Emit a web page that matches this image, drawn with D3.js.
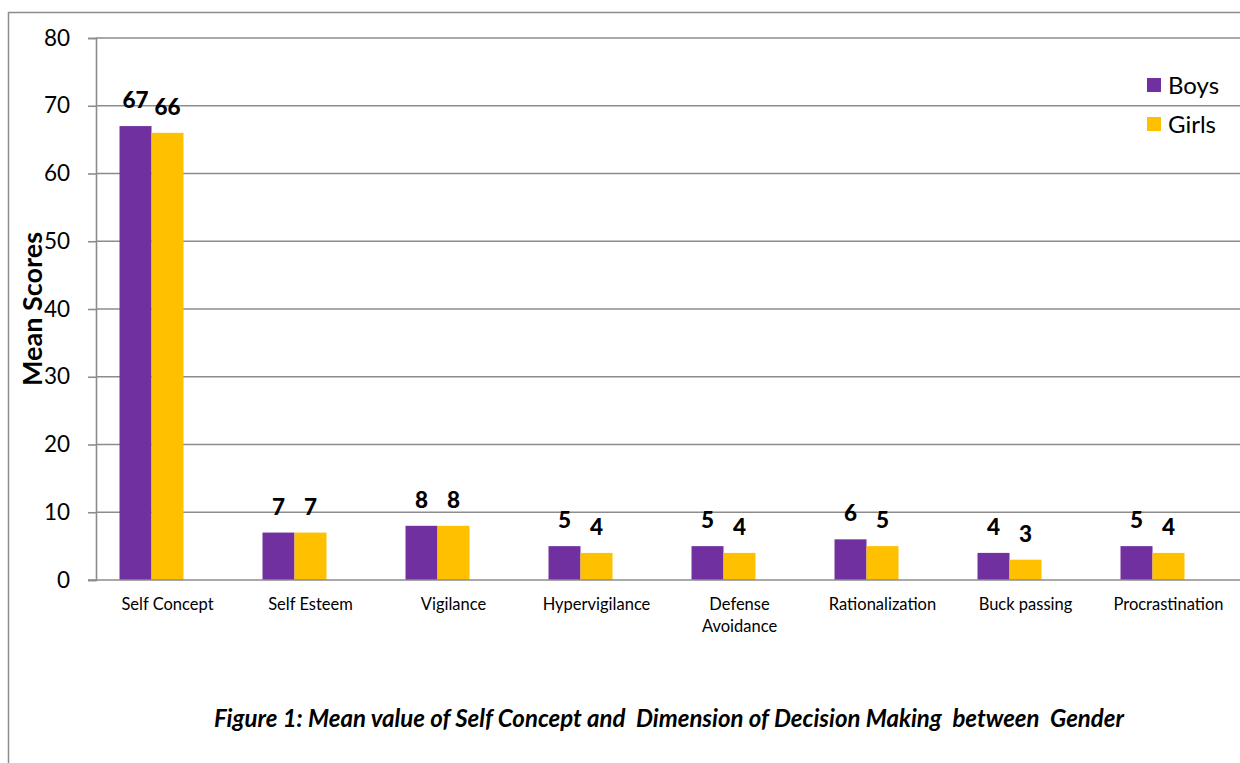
<!DOCTYPE html>
<html>
<head>
<meta charset="utf-8">
<script src="https://cdn.jsdelivr.net/npm/d3@7"></script>
<style>
  html, body { margin: 0; padding: 0; background: #fff; }
  svg { display: block; }
</style>
</head>
<body>
<svg id="chart" width="1240" height="763"></svg>
<script>
// Chart data
const categories = ["Self Concept", "Self Esteem", "Vigilance", "Hypervigilance",
  "Defense Avoidance", "Rationalization", "Buck passing", "Procrastination"];
const boys  = [67, 7, 8, 5, 5, 6, 4, 5];
const girls = [66, 7, 8, 4, 4, 5, 3, 4];
const seriesNames = ["Boys", "Girls"];
const yTicks = [0, 10, 20, 30, 40, 50, 60, 70, 80];

const colors = { Boys: "#7030A0", Girls: "#FFC000" };
const font = "Lato, 'Open Sans', sans-serif";

const svg = d3.select("#chart");
const W = 1240, H = 763;
const m = { left: 96, right: 0, top: 38, bottom: 183 };

// Outer frame
svg.append("rect")
  .attr("x", 8.5).attr("y", 12.5)
  .attr("width", W + 10).attr("height", H + 10)
  .attr("fill", "none").attr("stroke", "#8c8c8c").attr("stroke-width", 1.5);

const x0 = d3.scaleBand().domain(categories).range([m.left, W - m.right]).paddingInner(0).paddingOuter(0);
// three slots per category; the last one stays empty, so the pair sits left of centre
const slots = seriesNames.concat(["(empty)"]);
const x1 = d3.scaleBand().domain(slots).range([0, x0.bandwidth()]).paddingInner(0).paddingOuter(0.735);
const y = d3.scaleLinear().domain([0, 80]).range([H - m.bottom, m.top]);

// Horizontal gridlines
svg.append("g").selectAll("line").data(yTicks.filter(d => d > 0)).join("line")
  .attr("x1", m.left).attr("x2", W)
  .attr("y1", d => y(d)).attr("y2", d => y(d))
  .attr("stroke", "#8c8c8c").attr("stroke-width", 1.6);

// Y axis
const yAxis = svg.append("g")
  .attr("transform", `translate(${m.left},0)`)
  .call(d3.axisLeft(y).tickValues(yTicks).tickSize(8).tickPadding(18));
yAxis.select(".domain").attr("stroke", "#8c8c8c").attr("stroke-width", 1.6);
yAxis.selectAll(".tick line").attr("stroke", "#8c8c8c").attr("stroke-width", 1.6);
yAxis.selectAll(".tick text").attr("font-family", font).attr("font-size", 22.5).attr("fill", "#000");

// Bars
const rows = categories.map((c, i) => ({ cat: c, vals: [
  { key: "Boys", v: boys[i] }, { key: "Girls", v: girls[i] }] }));

const groups = svg.append("g").selectAll("g").data(rows).join("g")
  .attr("transform", d => `translate(${x0(d.cat)},0)`);

groups.selectAll("rect").data(d => d.vals).join("rect")
  .attr("x", d => x1(d.key)).attr("width", x1.bandwidth())
  .attr("y", d => y(d.v)).attr("height", d => y(0) - y(d.v))
  .attr("fill", d => colors[d.key]);

groups.selectAll("text").data(d => d.vals).join("text")
  .attr("x", d => x1(d.key) + x1.bandwidth() / 2)
  .attr("y", d => y(d.v) - 18)
  .attr("text-anchor", "middle")
  .attr("font-family", font).attr("font-weight", "900").attr("font-size", 22.5)
  .attr("fill", "#000")
  .text(d => d.v);

// X axis baseline
const xAxis = svg.append("g")
  .attr("transform", `translate(0,${y(0)})`)
  .call(d3.axisBottom(x0).tickSize(0).tickPadding(18));
xAxis.select(".domain").attr("stroke", "#8c8c8c").attr("stroke-width", 1.6)
  .attr("d", `M${m.left - 8},0H${W}`);
xAxis.selectAll(".tick text")
  .attr("font-family", font).attr("font-size", 16.5).attr("fill", "#000")
  .each(function (d) {
    const t = d3.select(this);
    if (d === "Defense Avoidance") {
      t.text(null);
      t.append("tspan").attr("x", 0).attr("dy", "0.71em").text("Defense");
      t.append("tspan").attr("x", 0).attr("dy", "1.35em").text("Avoidance");
      t.attr("dy", null);
    }
  });

// Y axis title
svg.append("text")
  .attr("transform", `translate(42,${(y(0) + y(80)) / 2}) rotate(-90)`)
  .attr("text-anchor", "middle")
  .attr("font-family", font).attr("font-weight", "bold").attr("font-size", 27)
  .attr("fill", "#000")
  .text("Mean Scores");

// Legend
const legend = svg.append("g").selectAll("g").data(seriesNames).join("g")
  .attr("transform", (d, i) => `translate(1147,${78 + i * 39})`);
legend.append("rect").attr("width", 14).attr("height", 14).attr("fill", d => colors[d]);
legend.append("text").attr("x", 21).attr("y", 7).attr("dy", "0.36em")
  .attr("font-family", font).attr("font-size", 24).attr("fill", "#000")
  .text(d => d);

// Caption
svg.append("text")
  .attr("x", 669).attr("y", 727)
  .attr("text-anchor", "middle")
  .attr("font-family", font).attr("font-weight", "bold").attr("font-style", "italic")
  .attr("font-size", 24).attr("fill", "#000")
  .attr("xml:space", "preserve")
  .style("white-space", "pre")
  .text("Figure 1: Mean value of Self Concept and  Dimension of Decision Making  between  Gender");
</script>
</body>
</html>
